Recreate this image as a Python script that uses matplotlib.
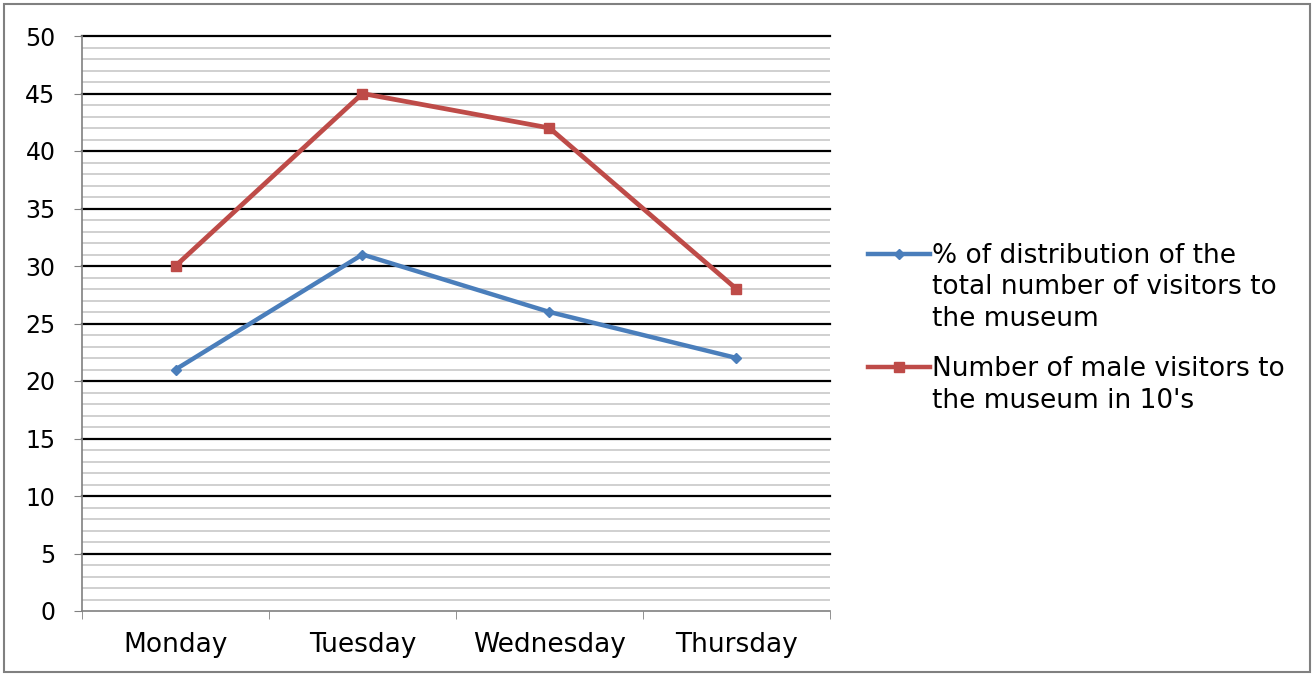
import numpy as np
import matplotlib.pyplot as plt
from matplotlib.lines import Line2D
from matplotlib.patches import Rectangle

days = ['Monday', 'Tuesday', 'Wednesday', 'Thursday']
pct_total = [21, 31, 26, 22]
male_10s = [30, 45, 42, 28]
label_pct = '% of distribution of the\ntotal number of visitors to\nthe museum'
label_male = 'Number of male visitors to\nthe museum in 10\'s'

blue = '#4a7ebb'
red = '#be4b48'

plt.rcParams['font.family'] = ['DejaVu Sans']

W, H = 1314, 675
fig = plt.figure(figsize=(W / 100, H / 100), dpi=100)
ax = fig.add_axes([82 / W, 1 - 611 / H, (830 - 82) / W, (611 - 36) / H])

x = np.arange(1, len(days) + 1)

# gridlines: minor every 1, major every 5
for y in range(1, 51):
    if y % 5 == 0:
        ax.axhline(y, color='black', lw=1.6, zorder=1, clip_on=False)
    else:
        ax.axhline(y, color='#c8c8c8', lw=1.2, zorder=1)

ax.plot(x, pct_total, color=blue, lw=3.2, marker='D', ms=5, zorder=3)
ax.plot(x, male_10s, color=red, lw=3.4, marker='s', ms=7, zorder=3)

ax.set_xlim(0.5, len(days) + 0.5)
ax.set_ylim(0, 50)
ax.set_yticks(range(0, 51, 5))
ax.set_xticks(x)
ax.set_xticklabels(days)
ax.set_xticks(np.arange(0.5, len(days) + 1, 1), minor=True)
ax.tick_params(axis='x', which='major', length=0, pad=15, labelsize=19)
ax.tick_params(axis='x', which='minor', length=6, color='#808080', direction='out')
ax.tick_params(axis='y', length=6, color='#808080', labelsize=17, pad=13)

for s in ['top', 'right']:
    ax.spines[s].set_visible(False)
for s in ['left', 'bottom']:
    ax.spines[s].set_color('#808080')
    ax.spines[s].set_linewidth(1.2)

# legend drawn Excel-style: handle aligned with first line of each label
entries = [(blue, 'D', 5, label_pct, 254), (red, 's', 7, label_male, 367)]
for color, mk, ms, label, yh in entries:
    fig.add_artist(Line2D([868 / W, 930 / W], [1 - yh / H] * 2, color=color, lw=3.2))
    fig.add_artist(Line2D([899 / W], [1 - yh / H], color=color, marker=mk, ms=ms, lw=0))
    for i, line in enumerate(label.split('\n')):
        fig.text(932 / W, 1 - (yh + 9 + i * 31.5) / H, line, fontsize=19,
                 va='baseline', ha='left')

fig.patches.append(Rectangle((0.003, 0.004), 0.994, 0.99, transform=fig.transFigure,
                             fill=False, edgecolor='#808080', lw=1.5))

fig.savefig('out.png', dpi=100)
